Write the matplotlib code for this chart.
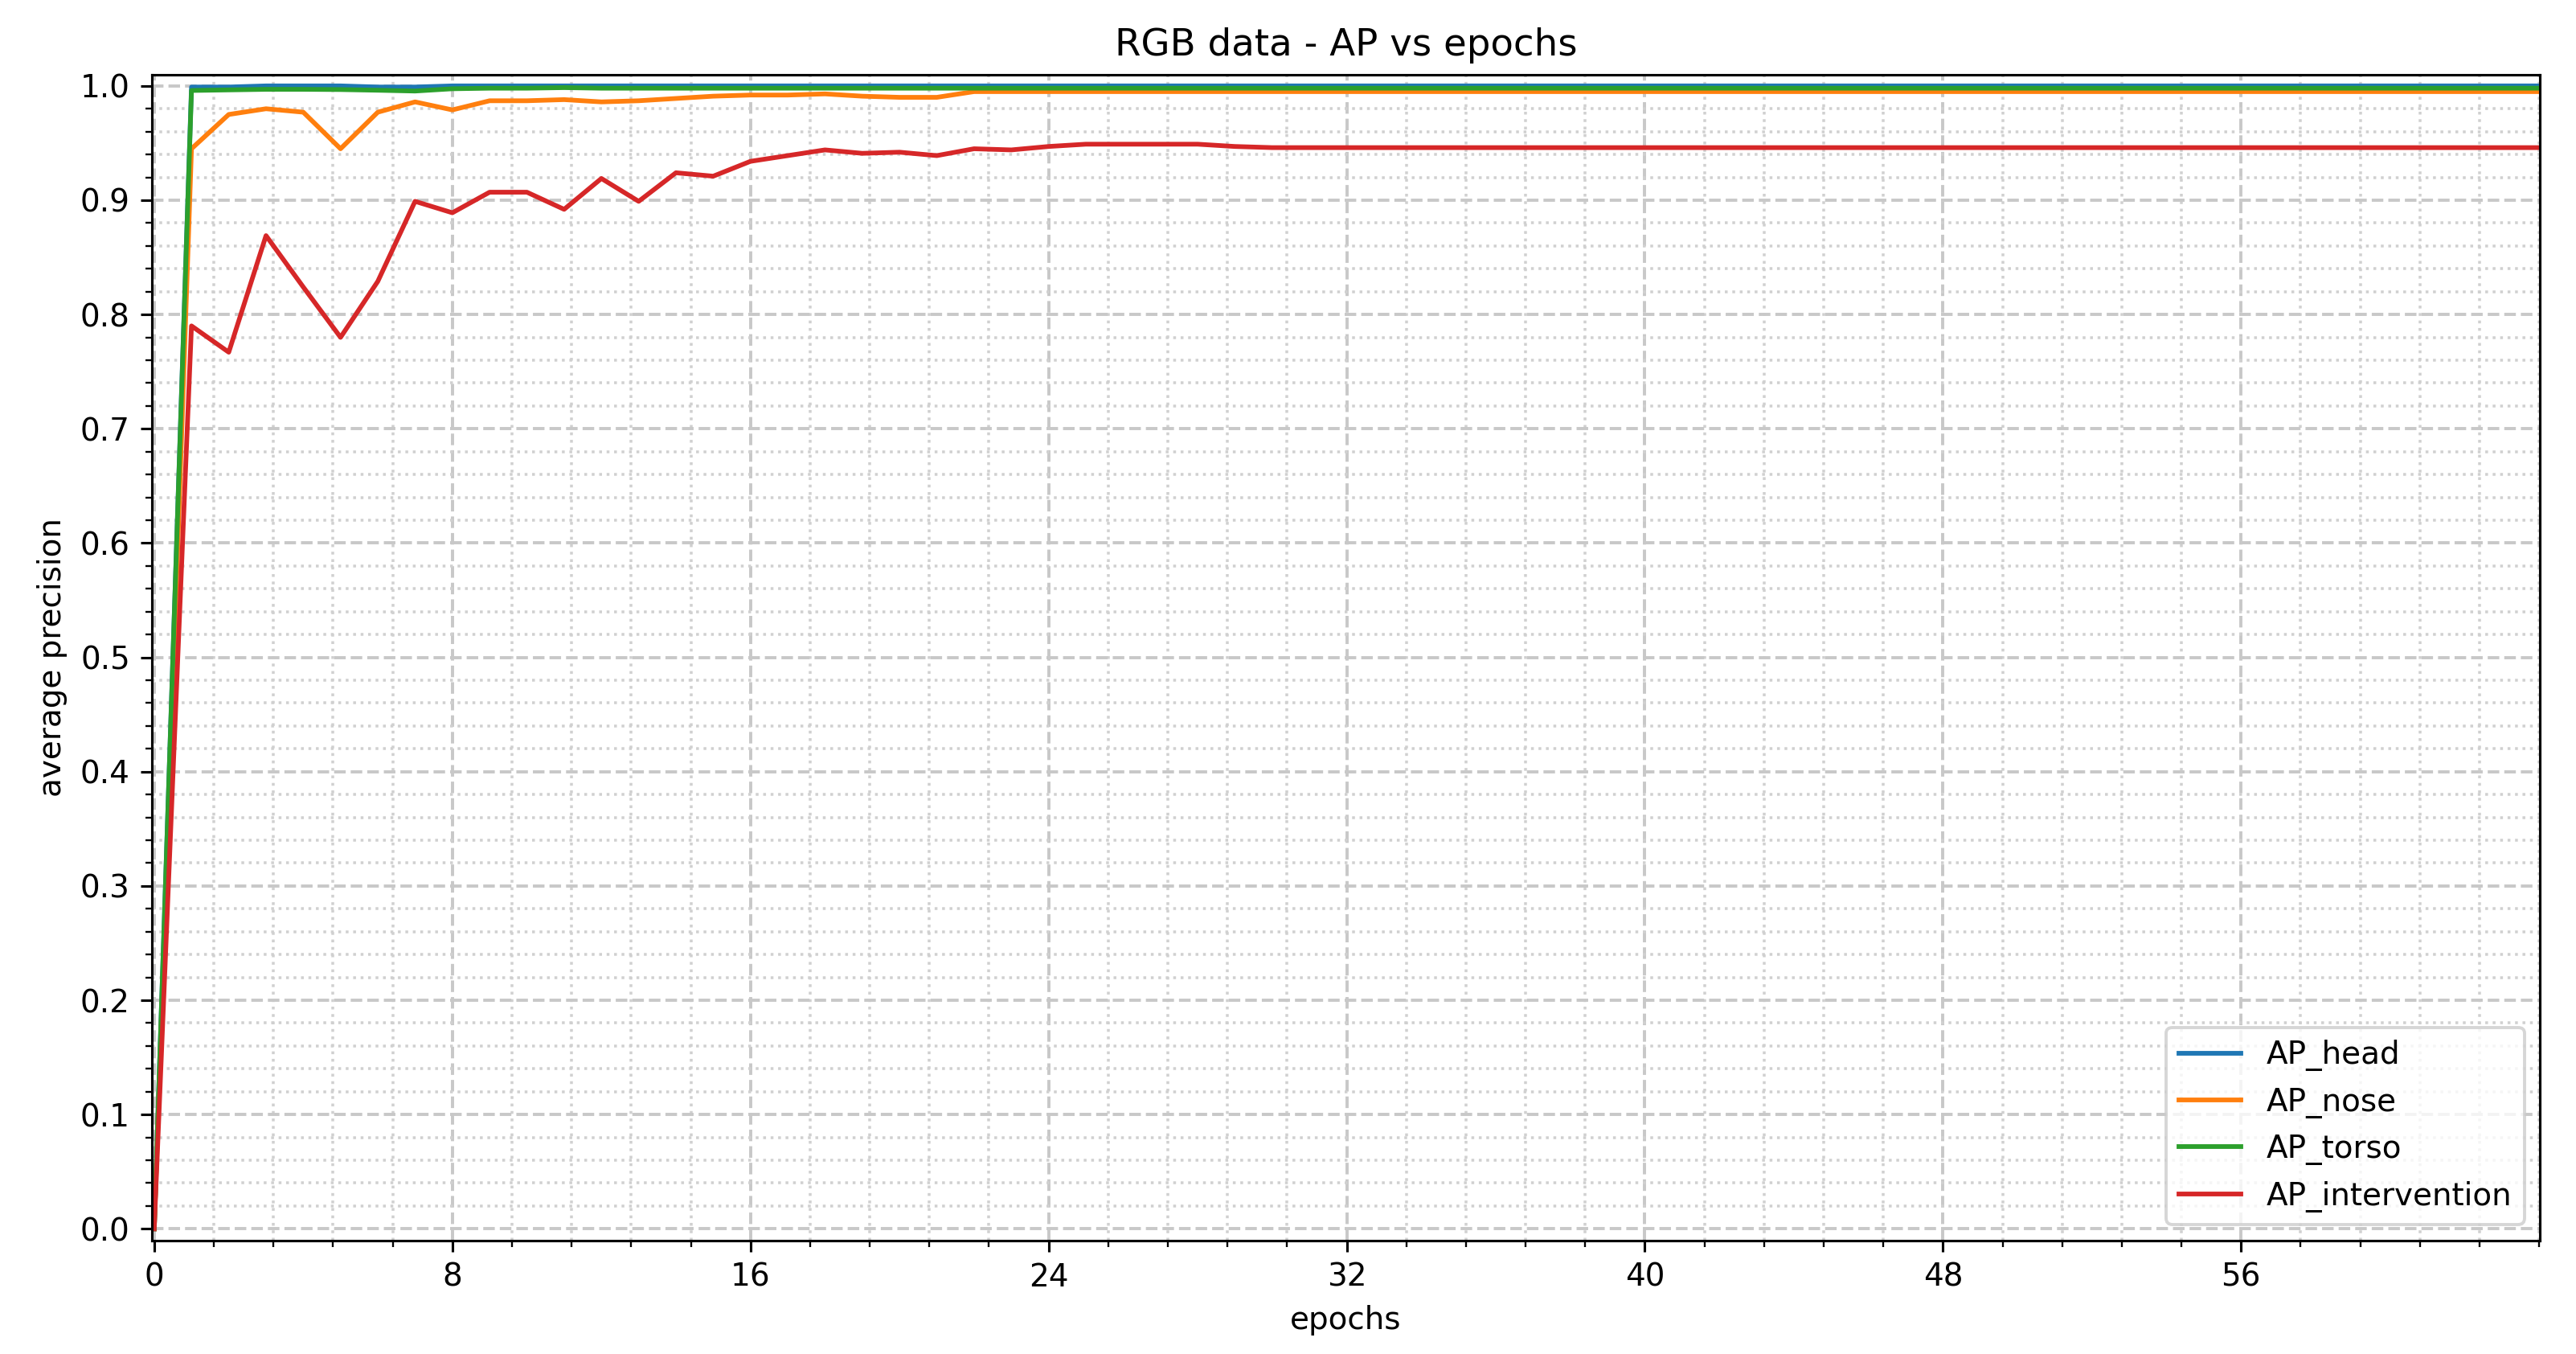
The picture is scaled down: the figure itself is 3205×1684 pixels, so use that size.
import matplotlib
matplotlib.use("Agg")
import matplotlib.pyplot as plt
from matplotlib.ticker import AutoMinorLocator, MultipleLocator

# values, one per epoch (0..64)
epochs = list(range(65))

ap_head = [
    0.0, 0.999, 0.999, 1.0, 1.0, 1.0, 0.999, 0.999, 1.0, 1.0,
    1.0, 1.0, 1.0, 1.0, 1.0, 1.0, 1.0, 1.0, 1.0, 1.0,
    1.0, 1.0, 1.0, 1.0, 1.0, 1.0, 1.0, 1.0, 1.0, 1.0,
    1.0, 1.0, 1.0, 1.0, 1.0, 1.0, 1.0, 1.0, 1.0, 1.0,
    1.0, 1.0, 1.0, 1.0, 1.0, 1.0, 1.0, 1.0, 1.0, 1.0,
    1.0, 1.0, 1.0, 1.0, 1.0, 1.0, 1.0, 1.0, 1.0, 1.0,
    1.0, 1.0, 1.0, 1.0, 1.0,
]

ap_nose = [
    0.0, 0.945, 0.975, 0.980, 0.977, 0.945, 0.977, 0.986, 0.979, 0.987,
    0.987, 0.988, 0.986, 0.987, 0.989, 0.991, 0.992, 0.992, 0.993, 0.991,
    0.990, 0.990, 0.995, 0.995, 0.995, 0.995, 0.995, 0.995, 0.995, 0.995,
    0.995, 0.995, 0.995, 0.995, 0.995, 0.995, 0.995, 0.995, 0.995, 0.995,
    0.995, 0.995, 0.995, 0.995, 0.995, 0.995, 0.995, 0.995, 0.995, 0.995,
    0.995, 0.995, 0.995, 0.995, 0.995, 0.995, 0.995, 0.995, 0.995, 0.995,
    0.995, 0.995, 0.995, 0.995, 0.995,
]

ap_torso = [
    0.0, 0.996, 0.9965, 0.997, 0.997, 0.9968, 0.9962, 0.9955, 0.9975, 0.998,
    0.998, 0.9985, 0.998, 0.998, 0.998, 0.998, 0.998, 0.998, 0.998, 0.998,
    0.998, 0.998, 0.998, 0.998, 0.998, 0.998, 0.998, 0.998, 0.998, 0.998,
    0.998, 0.998, 0.998, 0.998, 0.998, 0.998, 0.998, 0.998, 0.998, 0.998,
    0.998, 0.998, 0.998, 0.998, 0.998, 0.998, 0.998, 0.998, 0.998, 0.998,
    0.998, 0.998, 0.998, 0.998, 0.998, 0.998, 0.998, 0.998, 0.998, 0.998,
    0.998, 0.998, 0.998, 0.998, 0.998,
]

ap_intervention = [
    0.0, 0.790, 0.767, 0.869, 0.824, 0.780, 0.829, 0.899, 0.889, 0.907,
    0.907, 0.892, 0.919, 0.899, 0.924, 0.921, 0.934, 0.939, 0.944, 0.941,
    0.942, 0.939, 0.945, 0.944, 0.947, 0.949, 0.949, 0.949, 0.949, 0.947,
    0.946, 0.946, 0.946, 0.946, 0.946, 0.946, 0.946, 0.946, 0.946, 0.946,
    0.946, 0.946, 0.946, 0.946, 0.946, 0.946, 0.946, 0.946, 0.946, 0.946,
    0.946, 0.946, 0.946, 0.946, 0.946, 0.946, 0.946, 0.946, 0.946, 0.946,
    0.946, 0.946, 0.946, 0.946, 0.946,
]

DPI = 280
fig, ax = plt.subplots(figsize=(3205 / DPI, 1684 / DPI), dpi=DPI)
fig.subplots_adjust(left=0.059, right=0.986, top=0.945, bottom=0.084)

ax.plot(epochs, ap_head, label="AP_head")
ax.plot(epochs, ap_nose, label="AP_nose")
ax.plot(epochs, ap_torso, label="AP_torso")
ax.plot(epochs, ap_intervention, label="AP_intervention")

ax.set_title("RGB data - AP vs epochs")
ax.set_xlabel("epochs")
ax.set_ylabel("average precision")

# major ticks every 8 epochs / 0.1 AP, minor ticks split each in 5
ax.set_xticks(range(0, 64, 8))
ax.xaxis.set_minor_locator(AutoMinorLocator(5))
ax.yaxis.set_major_locator(MultipleLocator(0.1))
ax.yaxis.set_minor_locator(AutoMinorLocator(5))
ax.set_xlim(-0.06, 64.02)
ax.set_ylim(-0.01, 1.01)

ax.grid(which="major", linestyle="--", color="#c8c8c8", linewidth=1.0)
ax.grid(which="minor", linestyle=":", color="#d0d0d0", linewidth=0.9)
ax.set_axisbelow(True)

ax.legend(loc="lower right")

fig.savefig("out.png", dpi=DPI)
